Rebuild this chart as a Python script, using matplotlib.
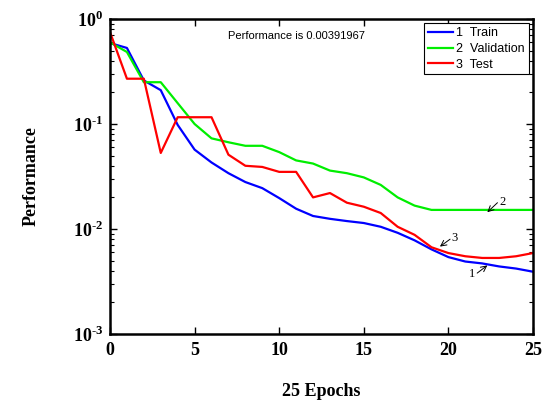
import numpy as np
import matplotlib
matplotlib.use("Agg")
import matplotlib.pyplot as plt
from matplotlib.ticker import LogLocator, FixedLocator, FuncFormatter, NullFormatter

plt.rcParams["mathtext.fontset"] = "custom"
plt.rcParams["mathtext.rm"] = "Liberation Serif:bold"
plt.rcParams["mathtext.bf"] = "Liberation Serif:bold"

epochs = list(range(26))
train = [0.59, 0.53, 0.26, 0.21, 0.098, 0.057, 0.043, 0.034, 0.028, 0.0245,
         0.0197, 0.0156, 0.0133, 0.0125, 0.0119, 0.0114, 0.0105, 0.0092, 0.0078,
         0.0064, 0.0054, 0.0049, 0.0047, 0.0044, 0.0042, 0.00392]
validation = [0.60, 0.485, 0.25, 0.25, 0.158, 0.10, 0.073, 0.067, 0.062, 0.062,
              0.054, 0.045, 0.042, 0.036, 0.034, 0.031, 0.0263, 0.020, 0.0167,
              0.0152, 0.0152, 0.0152, 0.0152, 0.0152, 0.0152, 0.0152]
test = [0.75, 0.27, 0.27, 0.053, 0.116, 0.116, 0.116, 0.051, 0.040, 0.039,
        0.035, 0.035, 0.020, 0.022, 0.0178, 0.0163, 0.0142, 0.0105, 0.0088,
        0.0067, 0.0059, 0.0055, 0.0053, 0.0053, 0.0055, 0.0059]
legend_labels = ["1  Train", "2  Validation", "3  Test"]
xticks = [0, 5, 10, 15, 20, 25]
yticks = [1e-3, 1e-2, 1e-1, 1e0]
best_perf = 0.00391967

fig = plt.figure(figsize=(5.45, 4.0), dpi=100)
ax = fig.add_axes([110 / 545, 1 - 334 / 400, 423 / 545, 315 / 400])

ax.semilogy(epochs, train, color="#0000ff", lw=1.6, label=legend_labels[0])
ax.semilogy(epochs, validation, color="#00ee00", lw=1.6, label=legend_labels[1])
ax.semilogy(epochs, test, color="#ff0000", lw=1.6, label=legend_labels[2])

ax.set_xlim(0, 25)
ax.set_ylim(1e-3, 1e0)
ax.xaxis.set_major_locator(FixedLocator(xticks))
ax.yaxis.set_major_locator(FixedLocator(yticks))
ax.yaxis.set_minor_locator(LogLocator(base=10, subs=np.arange(2, 10)))
ax.yaxis.set_minor_formatter(NullFormatter())
ax.yaxis.set_major_formatter(
    FuncFormatter(lambda v, p: r"$10^{\text{%d}}$" % int(round(np.log10(v)))))
ax.xaxis.set_major_formatter(FuncFormatter(lambda v, p: "%d" % v))

ax.tick_params(which="both", direction="in", top=True, right=True)
ax.tick_params(which="major", length=5, width=1)
ax.tick_params(which="minor", length=3, width=0.8)
ax.tick_params(axis="y", which="major", labelsize=13, pad=5)
ax.tick_params(axis="x", which="major", labelsize=13, pad=6)
for lbl in ax.get_xticklabels():
    lbl.set_fontfamily("Liberation Serif")
    lbl.set_fontweight("bold")
for s in ax.spines.values():
    s.set_linewidth(1.8)

ax.set_xlabel("25 Epochs", fontfamily="Liberation Serif", fontweight="bold",
              fontsize=13, labelpad=17)
ax.set_ylabel("Performance", fontfamily="Liberation Serif", fontweight="bold",
              fontsize=13, labelpad=24)

ax.text(0.44, 0.945, "Performance is %g" % best_perf, transform=ax.transAxes,
        ha="center", va="center", fontfamily="Liberation Sans", fontsize=8)

leg = ax.legend(loc="upper right", prop={"family": "Liberation Sans", "size": 9},
                fancybox=False, framealpha=1, edgecolor="black",
                handlelength=2.0, handletextpad=0.3, borderpad=0.3,
                labelspacing=0.3, borderaxespad=0.35)
leg.get_frame().set_linewidth(0.8)

arrow = dict(arrowstyle="->", lw=0.7, color="black", shrinkA=0, shrinkB=0)
ann_font = dict(fontfamily="Liberation Serif", fontsize=9)
ax.annotate("", xy=(22.3, validation[22] * 0.95), xytext=(22.9, 0.0178),
            arrowprops=arrow)
ax.text(23.0, 0.0182, "2", ha="left", va="center", **ann_font)
ax.annotate("", xy=(19.5, 0.0068), xytext=(20.1, 0.0080), arrowprops=arrow)
ax.text(20.2, 0.0082, "3", ha="left", va="center", **ann_font)
ax.annotate("", xy=(22.3, 0.0045), xytext=(21.7, 0.0038), arrowprops=arrow)
ax.text(21.6, 0.0037, "1", ha="right", va="center", **ann_font)

fig.savefig("out.png", dpi=100)
